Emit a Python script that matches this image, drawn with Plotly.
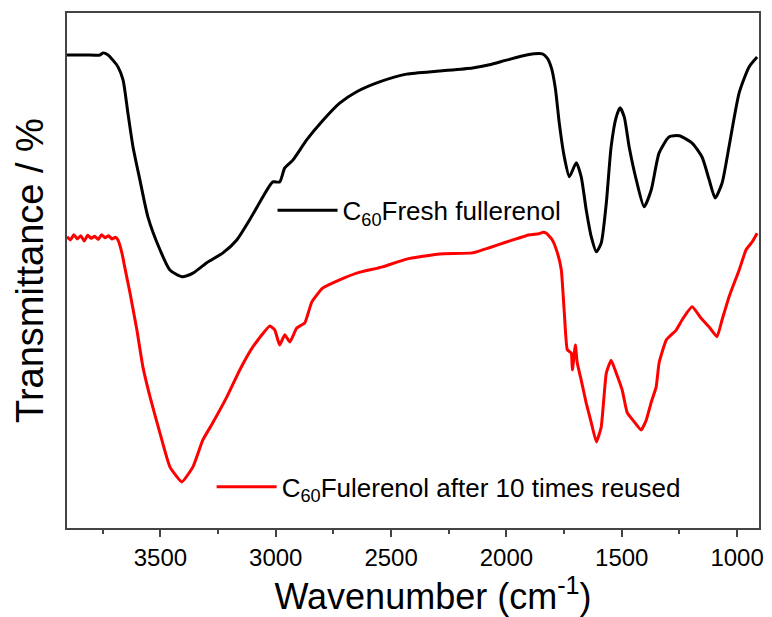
import plotly.graph_objects as go

# Fresh fullerenol (black) — wavenumber (cm-1) and transmittance (arb. %)
fresh_wn = [3905, 3827, 3762, 3749, 3727, 3706, 3684, 3662, 3641, 3619, 3589, 3554, 3502,
            3459, 3407, 3359, 3299, 3229, 3169, 3113, 3056, 3013, 2983, 2961, 2926, 2866,
            2797, 2723, 2649, 2550, 2433, 2290, 2147, 2074, 2000, 1913, 1844, 1823, 1805,
            1788, 1771, 1749, 1727, 1697, 1676, 1654, 1632, 1610, 1589, 1567, 1546, 1524,
            1507, 1489, 1468, 1437, 1403, 1372, 1338, 1294, 1251, 1195, 1152, 1121, 1095,
            1065, 1035, 991, 948, 913]
fresh_t = [91.3, 91.3, 91.3, 91.7, 91.3, 90.3, 89.0, 86.5, 80.1, 73.6, 67.2, 60.0, 53.7,
           49.8, 48.5, 49.2, 51.2, 53.1, 55.6, 59.5, 63.9, 66.8, 66.8, 69.5, 71.0, 74.9,
           78.6, 82.0, 84.2, 86.1, 87.6, 88.2, 88.8, 89.4, 90.3, 91.3, 91.5, 90.7, 88.8,
           84.9, 78.2, 71.6, 67.8, 70.5, 67.8, 61.4, 56.2, 53.3, 55.0, 62.7, 73.6, 79.3,
           81.1, 79.3, 73.6, 67.2, 62.0, 65.3, 72.4, 75.5, 75.7, 74.3, 71.6, 67.2, 63.7,
           66.6, 73.6, 84.0, 89.0, 90.9]

# Fullerenol after 10 times reused (red)
reused_wn = [3905, 3890, 3875, 3860, 3845, 3830, 3815, 3800, 3785, 3770, 3755, 3740, 3725,
             3710, 3695, 3684, 3667, 3654, 3632, 3602, 3576, 3545, 3502, 3459, 3407, 3359,
             3316, 3273, 3212, 3156, 3100, 3026, 3004, 2983, 2961, 2939, 2909, 2874, 2844,
             2797, 2723, 2649, 2537, 2433, 2290, 2147, 2074, 2000, 1900, 1860, 1840, 1827,
             1801, 1779, 1762, 1749, 1736, 1719, 1714, 1701, 1693, 1676, 1654, 1632, 1610,
             1589, 1567, 1546, 1524, 1498, 1476, 1446, 1416, 1394, 1372, 1351, 1338, 1307,
             1264, 1238, 1195, 1156, 1121, 1087, 1065, 1035, 991, 961, 935, 913]
reused_t = [56.2, 55.6, 56.6, 55.8, 56.4, 55.4, 56.5, 55.9, 56.3, 55.7, 56.6, 56.0, 56.4,
            55.8, 56.1, 55.6, 53.1, 50.2, 45.4, 38.2, 31.1, 25.3, 18.3, 11.8, 8.9, 11.8,
            17.0, 20.3, 25.3, 30.5, 34.9, 39.0, 38.2, 35.3, 37.3, 35.9, 38.6, 39.6, 43.6,
            46.3, 47.9, 49.2, 50.4, 51.9, 52.9, 53.1, 54.1, 55.2, 56.6, 56.8, 57.1, 56.9,
            55.6, 53.1, 49.8, 41.5, 34.4, 33.8, 30.5, 35.3, 31.9, 28.6, 24.1, 20.3, 16.6,
            19.5, 29.9, 32.4, 29.9, 26.6, 22.2, 20.5, 18.9, 20.8, 24.3, 27.2, 31.9, 36.3,
            38.2, 40.2, 42.7, 40.5, 38.8, 36.9, 40.2, 44.6, 49.8, 53.7, 55.2, 56.9]

fresh_name = "C<sub>60</sub>Fresh fullerenol"
reused_name = "C<sub>60</sub>Fulerenol after 10 times reused"

font_family = "Liberation Sans, Arial, sans-serif"

fig = go.Figure()
fig.add_trace(go.Scatter(x=fresh_wn, y=fresh_t, mode="lines", name=fresh_name,
                         line=dict(color="black", width=3, shape="spline", smoothing=0.6),
                         legend="legend"))
fig.add_trace(go.Scatter(x=reused_wn, y=reused_t, mode="lines", name=reused_name,
                         line=dict(color="#ff0000", width=3, shape="spline", smoothing=0.4),
                         legend="legend2"))

fig.update_layout(
    width=772, height=617,
    margin=dict(l=67, r=13, t=13, b=89, autoexpand=False),
    paper_bgcolor="white", plot_bgcolor="white",
    font=dict(family=font_family, color="black"),
    showlegend=True,
    legend=dict(x=0.297, y=0.617, xanchor="left", yanchor="middle",
                bgcolor="rgba(0,0,0,0)", font=dict(size=26, family=font_family),
                itemwidth=60),
    legend2=dict(x=0.209, y=0.08, xanchor="left", yanchor="middle",
                 bgcolor="rgba(0,0,0,0)", font=dict(size=26, family=font_family),
                 itemwidth=60),
    xaxis=dict(
        range=[3905, 905], showgrid=False, zeroline=False, automargin=False,
        showline=True, linecolor="#444", linewidth=1.5, mirror=True,
        ticks="outside", ticklen=7, tickwidth=1.5, tickcolor="#444",
        tick0=1000, dtick=500,
        minor=dict(ticks="outside", ticklen=4, tickwidth=1.5, tickcolor="#444", dtick=250, tick0=1000),
        tickfont=dict(size=24, family=font_family),
        title=dict(text="&nbsp;&nbsp;&nbsp;&nbsp;Wavenumber (cm<sup>-1</sup>)",
                   font=dict(size=36, family=font_family), standoff=0),
    ),
    yaxis=dict(
        range=[0, 99.4], showgrid=False, zeroline=False, automargin=False,
        showline=True, linecolor="#444", linewidth=1.5, mirror=True,
        ticks="", showticklabels=False,
        title=dict(text="Transmittance / %", font=dict(size=38, family=font_family), standoff=10),
    ),
)

fig.write_html("out.html", config={"displayModeBar": False},
               post_script="document.body.style.margin='0px';")
